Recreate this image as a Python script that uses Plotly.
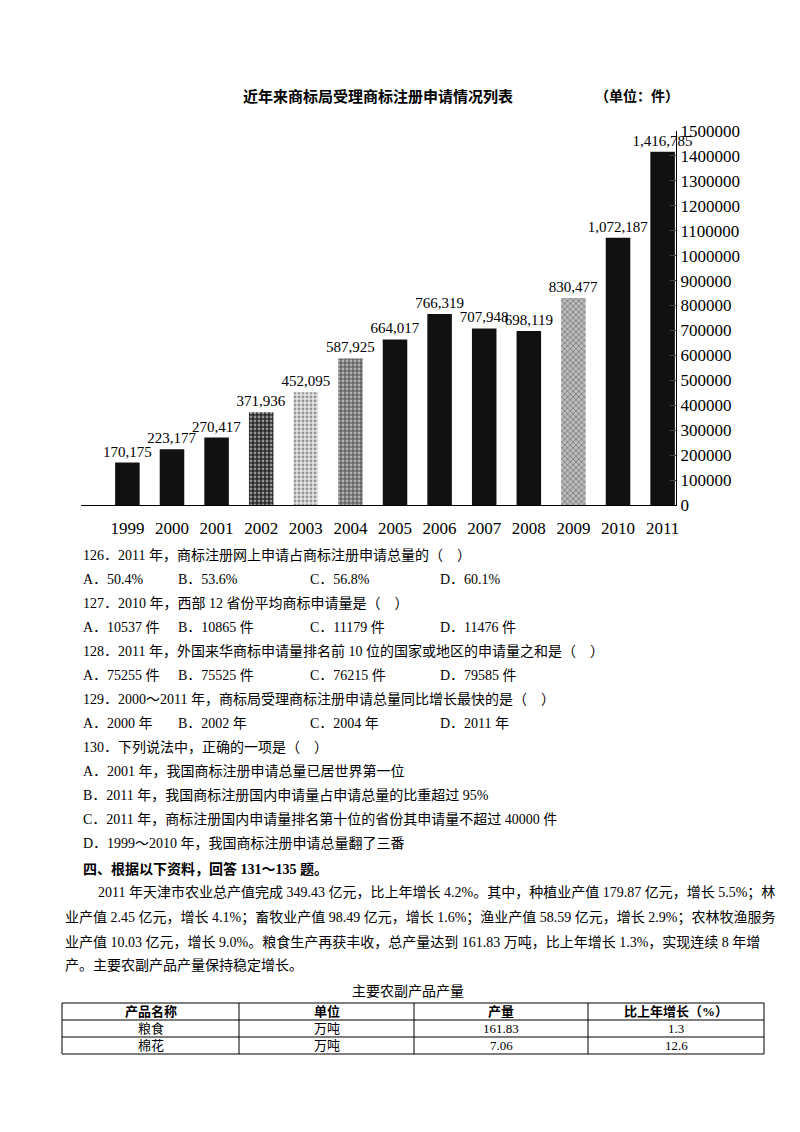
import plotly.graph_objects as go

W, H = 800, 1132
L, R, T, B = 73, 668, 123, 497  # plot area in pixels

years = ['1999', '2000', '2001', '2002', '2003', '2004', '2005', '2006', '2007', '2008', '2009', '2010', '2011']
apps = [170175, 223177, 270417, 371936, 452095, 587925, 664017, 766319, 707948, 698119, 830477, 1072187, 1416785]
labels = ['170,175', '223,177', '270,417', '371,936', '452,095', '587,925', '664,017', '766,319', '707,948', '698,119', '830,477', '1,072,187', '1,416,785']
yticks = list(range(0, 1500001, 100000))

bar_bg = ['#111'] * 3 + ['#2a2a2a', '#e4e4e4', '#666', '#111', '#111', '#111', '#111', '#bbb', '#111', '#111']
bar_fg = ['#111'] * 3 + ['#555', '#888', '#222', '#111', '#111', '#111', '#111', '#444', '#111', '#111']
bar_shape = [''] * 3 + ['.', '.', '.', '', '', '', '', 'x', '', '']

questions = [
    ('126．2011 年，商标注册网上申请占商标注册申请总量的（　）', ['A．50.4%', 'B．53.6%', 'C．56.8%', 'D．60.1%']),
    ('127．2010 年，西部 12 省份平均商标申请量是（　）', ['A．10537 件', 'B．10865 件', 'C．11179 件', 'D．11476 件']),
    ('128．2011 年，外国来华商标申请量排名前 10 位的国家或地区的申请量之和是（　）', ['A．75255 件', 'B．75525 件', 'C．76215 件', 'D．79585 件']),
    ('129．2000～2011 年，商标局受理商标注册申请总量同比增长最快的是（　）', ['A．2000 年', 'B．2002 年', 'C．2004 年', 'D．2011 年']),
]
q130 = [
    '130．下列说法中，正确的一项是（　）',
    'A．2001 年，我国商标注册申请总量已居世界第一位',
    'B．2011 年，我国商标注册国内申请量占申请总量的比重超过 95%',
    'C．2011 年，商标注册国内申请量排名第十位的省份其申请量不超过 40000 件',
    'D．1999～2010 年，我国商标注册申请总量翻了三番',
]
heading = '四、根据以下资料，回答 131～135 题。'
para = [
    '2011 年天津市农业总产值完成 349.43 亿元，比上年增长 4.2%。其中，种植业产值 179.87 亿元，增长 5.5%；林',
    '业产值 2.45 亿元，增长 4.1%；畜牧业产值 98.49 亿元，增长 1.6%；渔业产值 58.59 亿元，增长 2.9%；农林牧渔服务',
    '业产值 10.03 亿元，增长 9.0%。粮食生产再获丰收，总产量达到 161.83 万吨，比上年增长 1.3%，实现连续 8 年增',
    '产。主要农副产品产量保持稳定增长。',
]
table_title = '主要农副产品产量'
table_head = ['产品名称', '单位', '产量', '比上年增长（%）']
table_rows = [['粮食', '万吨', '161.83', '1.3'], ['棉花', '万吨', '7.06', '12.6']]

SERIF = 'Liberation Serif, Noto Sans CJK SC'

fig = go.Figure(go.Bar(
    x=years, y=apps, width=0.55, text=labels, textposition='outside', constraintext='none',
    textfont=dict(family=SERIF, size=15, color='black'), cliponaxis=False,
    marker=dict(color=bar_bg, line=dict(width=0),
                pattern=dict(shape=bar_shape, fgcolor=bar_fg, bgcolor=bar_bg, size=4, solidity=0.4)),
))

fig.update_xaxes(type='category', range=[-1.04, 12.3], showline=True, linecolor='black',
                 tickfont=dict(family=SERIF, size=17, color='black'), ticks='', ticklabelstandoff=8)
fig.update_yaxes(side='right', range=[0, 1500000], tickvals=yticks, ticktext=[str(v) for v in yticks],
                 showgrid=False, showline=True, linecolor='black', ticks='inside', ticklen=6,
                 tickfont=dict(family=SERIF, size=17, color='black'), zeroline=False)

def px(x, y):
    # page pixels -> paper coords (paper spans the plot area)
    return (x - L) / (R - L), (B - y) / (B - T)

ann = []
def text(x, y, s, size=14, bold=False, xanchor='left'):
    xx, yy = px(x, y)
    ann.append(dict(x=xx, y=yy, xref='paper', yref='paper', text=f'<b>{s}</b>' if bold else s,
                    showarrow=False, xanchor=xanchor, yanchor='middle',
                    font=dict(family=SERIF, size=size, color='black')))

text(370, 88, '近年来商标局受理商标注册申请情况列表', size=15, bold=True, xanchor='center')
text(585, 88, '（单位：件）', size=14, bold=True)

y = 547
opt_x = [73, 168, 300, 430]
for q, opts in questions:
    text(73, y, q)
    y += 24
    for ox, o in zip(opt_x, opts):
        text(ox, y, o)
    y += 24
for line in q130:
    text(73, y, line)
    y += 24
text(73, 861, heading, bold=True)
text(88, 885, para[0])
for i, line in enumerate(para[1:]):
    text(55, 910 + 24 * i, line)
text(400, 983, table_title, xanchor='center')

cols = [54, 231, 406, 580, 756]
rows = [995, 1012, 1029, 1046]
shapes = []
for cx in cols:
    x0, y0 = px(cx, rows[0])
    _, y1 = px(cx, rows[-1])
    shapes.append(dict(type='line', xref='paper', yref='paper', x0=x0, x1=x0, y0=y0, y1=y1,
                       line=dict(color='black', width=1)))
for ry in rows:
    x0, yy = px(cols[0], ry)
    x1, _ = px(cols[-1], ry)
    shapes.append(dict(type='line', xref='paper', yref='paper', x0=x0, x1=x1, y0=yy, y1=yy,
                       line=dict(color='black', width=1.2)))
for j, h in enumerate(table_head):
    text((cols[j] + cols[j + 1]) / 2, (rows[0] + rows[1]) / 2, h, size=13, bold=True, xanchor='center')
for i, r in enumerate(table_rows):
    for j, v in enumerate(r):
        text((cols[j] + cols[j + 1]) / 2, (rows[i + 1] + rows[i + 2]) / 2, v, size=13, xanchor='center')

fig.update_layout(width=W, height=H, margin=dict(l=L, r=W - R, t=T, b=H - B),
                  paper_bgcolor='white', plot_bgcolor='white', showlegend=False,
                  annotations=ann, shapes=shapes)

fig.write_html('out.html')
